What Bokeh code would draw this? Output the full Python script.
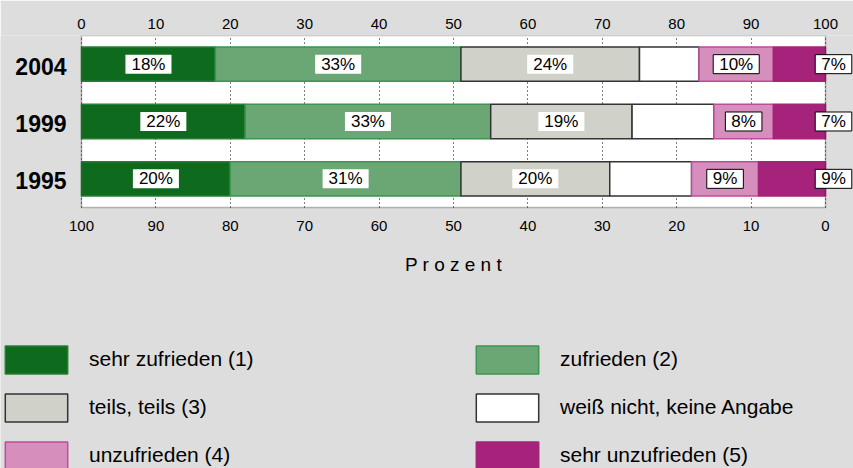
import numpy as np
from bokeh.plotting import figure
from bokeh.core.properties import value
from bokeh.models import (ColumnDataSource, Range1d, FixedTicker,
                          Legend, LegendItem, Label, BoxAnnotation)
from bokeh.embed import file_html
from bokeh.resources import INLINE

# ---------------- data ----------------
years = ["1995", "1999", "2004"]
categories = ["sehr zufrieden (1)", "zufrieden (2)", "teils, teils (3)",
              "weiß nicht, keine Angabe", "unzufrieden (4)", "sehr unzufrieden (5)"]
sehr_zufrieden = [20, 22, 18]
zufrieden = [31, 33, 33]
teils_teils = [20, 19, 24]
weiss_nicht = [11, 11, 8]
unzufrieden = [9, 8, 10]
sehr_unzufrieden = [9, 7, 7]
tick_values = [0, 10, 20, 30, 40, 50, 60, 70, 80, 90, 100]
bottom_tick_labels = ["100", "90", "80", "70", "60", "50", "40", "30", "20", "10", "0"]
axis_title = "P r o z e n t"

series = [sehr_zufrieden, zufrieden, teils_teils, weiss_nicht, unzufrieden, sehr_unzufrieden]
keys = ["s1", "s2", "s3", "s4", "s5", "s6"]

fill_colors = ["#0e6a1c", "#6aa775", "#d0d1c9", "#ffffff", "#d68fbd", "#a6237b"]
line_colors = ["#2a7f35", "#3f9450", "#333333", "#333333", "#c24a9c", "#a6237b"]

FONT = "Liberation Sans"
BG = "#dddddd"
W, H = 853, 468
TOP = 35
LEFT_PX = 81            # screen x of value 0
PX_X = 7.44             # pixels per percent
PX_Y = 57.333           # pixels per year row
NROWS = len(years)

ypos = list(np.arange(NROWS) + 0.5)
data = {"year": years, "ypos": ypos}
for k, s in zip(keys, series):
    data[k] = s
source = ColumnDataSource(data)

x0 = -LEFT_PX / PX_X
p = figure(width=W, height=H, output_backend="svg", toolbar_location=None,
           x_range=Range1d(x0, x0 + W / PX_X),
           y_range=Range1d(NROWS - (H - TOP) / PX_Y, NROWS),
           x_axis_location="above", y_axis_location=None,
           min_border_left=0, min_border_right=0, min_border_top=TOP, min_border_bottom=0)
p.background_fill_color = BG
p.border_fill_color = BG
p.outline_line_color = None

# white plotting area with frame line
p.add_layout(BoxAnnotation(left=0, right=100, bottom=0, top=NROWS, fill_color="white",
                           fill_alpha=1, line_color=None, level="image"))

renderers = p.hbar_stack(keys, y="ypos", height=0.6, source=source,
                         fill_color=fill_colors, line_color=line_colors, line_width=1.5)

p.add_layout(BoxAnnotation(left=0, right=100, bottom=0, top=NROWS, fill_color=None,
                           fill_alpha=0, line_color="#222222", line_width=1.5, level="overlay"))

# top axis
ax = p.xaxis[0]
ax.ticker = FixedTicker(ticks=tick_values)
ax.axis_line_color = None
ax.major_tick_out = 0
ax.major_tick_in = 0
ax.minor_tick_out = 0
ax.minor_tick_in = 0
ax.major_label_text_font = FONT
ax.major_label_text_font_size = "15px"
ax.major_label_text_color = "black"
ax.major_label_standoff = 7

# grid (dotted, only inside plotting area)
p.ygrid.grid_line_color = None
p.xgrid.ticker = FixedTicker(ticks=tick_values)
p.xgrid.cross_bounds = (0, NROWS)
p.xgrid.grid_line_color = "black"
p.xgrid.grid_line_dash = "1 3"
p.xgrid.grid_line_width = 1

# year labels (left)
p.text(x=[0] * NROWS, y=ypos, text=years, x_offset=-15, y_offset=2,
       text_align="right", text_baseline="middle", text_font=value(FONT),
       text_font_size="23px", text_font_style="bold", text_color="black")

# bottom reversed scale labels and title
p.text(x=tick_values, y=[0] * len(tick_values), text=bottom_tick_labels, y_offset=14,
       text_align="center", text_baseline="top", text_font=value(FONT),
       text_font_size="15px", text_color="black")
p.text(x=[50], y=[0], text=[axis_title], y_offset=47,
       text_align="center", text_baseline="top", text_font=value(FONT),
       text_font_size="19px", text_color="black")

# percentage labels
arr = np.array(series, dtype=float)
cum = np.cumsum(arr, axis=0)
left = cum - arr
for i in range(len(series)):
    if i == 3:
        continue
    for j in range(NROWS):
        txt = f"{int(arr[i, j])}%"
        if i == 5:
            xv, xoff = cum[i, j], 8
        else:
            xv, xoff = left[i, j] + arr[i, j] / 2, 0
        p.add_layout(Label(x=float(xv), y=float(ypos[j]), x_offset=xoff, text=txt,
                           text_align="center", text_baseline="middle", text_font=FONT,
                           text_font_size="17px", text_color="black",
                           background_fill_color="white",
                           border_line_color="black" if i >= 4 else None,
                           border_line_width=1, padding=(6, 0), level="overlay"))


# legends: two columns at the bottom
def make_legend(idx, loc):
    return Legend(items=[LegendItem(label=categories[i], renderers=[renderers[i]]) for i in idx],
                  location=loc, orientation="vertical", glyph_width=78, glyph_height=35,
                  label_standoff=14, spacing=13, padding=0, margin=0,
                  border_line_color=None, background_fill_alpha=0,
                  label_text_font=FONT, label_text_font_size="21px",
                  label_text_color="black", label_height=35)


p.add_layout(make_legend([0, 2, 4], (-3, -4.5)))
p.add_layout(make_legend([1, 3, 5], (468, -4.5)))

open("out.html", "w").write(file_html(p, INLINE))
